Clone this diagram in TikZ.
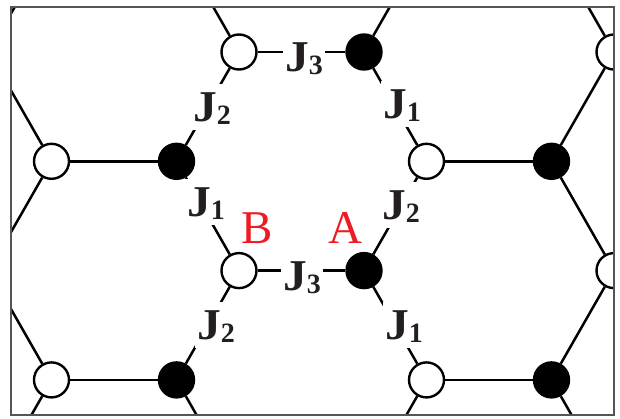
\documentclass[tikz,border=0pt]{standalone}
\usepackage{fontspec}
\setmainfont{Liberation Serif}
\definecolor{ink}{HTML}{231F20}
\definecolor{lblred}{HTML}{ED1C24}
\definecolor{framegray}{HTML}{555555}
\tikzset{
  site/.style={circle, minimum size=35pt, inner sep=0pt, line width=2.4pt, draw=black},
  opensite/.style={site, fill=white},
  fullsite/.style={site, fill=black},
  bond/.style={line width=2.5pt, black},
  jlabel/.style={fill=white, inner xsep=2pt, inner ysep=0pt, text height=37pt, text depth=9pt,
    anchor=base west, text=ink, font=\fontsize{44}{44}\selectfont\bfseries},
  sitelabel/.style={anchor=base west, inner sep=0pt, text=lblred, font=\fontsize{47}{47}\selectfont}
}
\newcommand{\Jsub}[1]{\scalebox{1.08}[1]{J}\lower3.5pt\hbox{\fontsize{28}{28}\selectfont\bfseries #1}}
\begin{document}
\begin{tikzpicture}[x=1pt,y=-1pt]
\useasboundingbox (0,0) rectangle (620,418);
\begin{scope}
\clip (11,7) rectangle (614,415);
% sites of rows A (y = 52, 270.6, 489.2)
\foreach \r/\y in {0/52, 1/270.6, 2/489.2} {
  \node[fullsite] (a\r0) at (-11,\y) {};
  \node[opensite] (a\r1) at (239,\y) {};
  \node[fullsite] (a\r2) at (364,\y) {};
  \node[opensite] (a\r3) at (614,\y) {};
}
% sites of rows B (y = -57.3, 161.3, 379.9)
\foreach \r/\y in {0/-57.3, 1/161.3, 2/379.9} {
  \node[opensite] (b\r1) at (51.5,\y) {};
  \node[fullsite] (b\r2) at (176.5,\y) {};
  \node[opensite] (b\r3) at (426.5,\y) {};
  \node[fullsite] (b\r4) at (551.5,\y) {};
}
% horizontal bonds
\foreach \r in {0,1,2} {
  \draw[bond] (a\r1) -- (a\r2);
  \draw[bond] (b\r1) -- (b\r2);
  \draw[bond] (b\r3) -- (b\r4);
}
% diagonal bonds
\foreach \r in {0,1,2} {
  \foreach \c in {0,1,2,3} {
    \pgfmathtruncatemacro\d{\c+1}
    \draw[bond] (a\r\c) -- (b\r\d);
  }
}
\foreach \r in {0,1} {
  \pgfmathtruncatemacro\s{\r+1}
  \foreach \c in {0,1,2,3} {
    \pgfmathtruncatemacro\d{\c+1}
    \draw[bond] (a\r\c) -- (b\s\d);
  }
}
% coupling labels
\node[jlabel] (j3top) at (283,71) {\Jsub{3}};
\node[jlabel] (j2ul) at (191,121) {\Jsub{2}};
\node[jlabel] (j1ur) at (381,118) {\Jsub{1}};
\node[jlabel] (j1ml) at (185,216) {\Jsub{1}};
\node[jlabel] (j2mr) at (380,219) {\Jsub{2}};
\node[jlabel] (j3bot) at (281,290) {\Jsub{3}};
\node[jlabel] (j2ll) at (195,339) {\Jsub{2}};
\node[jlabel] (j1lr) at (383,339) {\Jsub{1}};
% site labels
\node[sitelabel] (labB) at (241,243) {B};
\node[sitelabel] (labA) at (328,243) {A};
\end{scope}
\draw[draw=framegray, line width=1.2pt] (11,7) rectangle (614,415);
\end{tikzpicture}
\end{document}
